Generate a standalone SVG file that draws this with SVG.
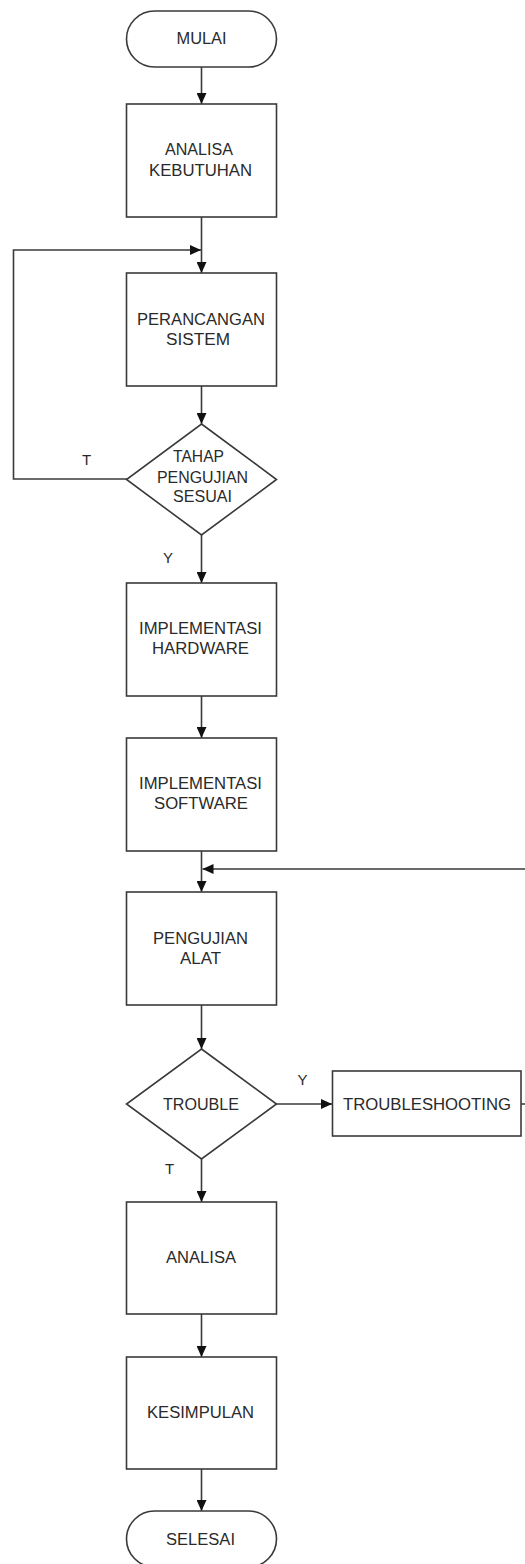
<svg xmlns="http://www.w3.org/2000/svg" width="525" height="1564" viewBox="0 0 525 1564">
<style>
.shape{fill:#ffffff;stroke:#3a3a3a;stroke-width:1.6}
.conn{fill:none;stroke:#3a3a3a;stroke-width:1.6}
.t{font-family:"Liberation Sans",Arial,sans-serif;font-size:16px;fill:#2a2a2a;text-anchor:middle}
.lbl{font-family:"Liberation Sans",Arial,sans-serif;font-size:15px;fill:#2a2a2a;text-anchor:middle}
</style>
<defs>
<marker id="arr" markerUnits="userSpaceOnUse" markerWidth="11" markerHeight="10" refX="11" refY="5" orient="auto">
<path d="M0,0 L11,5 L0,10 Z" fill="#111"/>
</marker>
</defs>
<rect width="525" height="1564" fill="#ffffff"/>
<g id="connectors">
<line class="conn" x1="201.5" y1="67" x2="201.5" y2="104" marker-end="url(#arr)"/>
<line class="conn" x1="201.5" y1="217" x2="201.5" y2="273" marker-end="url(#arr)"/>
<polyline class="conn" points="127,479 13.5,479 13.5,250 201,250" marker-end="url(#arr)"/>
<line class="conn" x1="201.5" y1="386" x2="201.5" y2="424" marker-end="url(#arr)"/>
<line class="conn" x1="201.5" y1="535" x2="201.5" y2="583" marker-end="url(#arr)"/>
<line class="conn" x1="201.5" y1="696" x2="201.5" y2="738" marker-end="url(#arr)"/>
<line class="conn" x1="201.5" y1="851" x2="201.5" y2="892" marker-end="url(#arr)"/>
<polyline class="conn" points="521,1104 532,1104 532,869 202.5,869" marker-end="url(#arr)"/>
<line class="conn" x1="201.5" y1="1005" x2="201.5" y2="1049" marker-end="url(#arr)"/>
<line class="conn" x1="276" y1="1104" x2="332" y2="1104" marker-end="url(#arr)"/>
<line class="conn" x1="201.5" y1="1159" x2="201.5" y2="1202" marker-end="url(#arr)"/>
<line class="conn" x1="201.5" y1="1314" x2="201.5" y2="1357" marker-end="url(#arr)"/>
<line class="conn" x1="201.5" y1="1469" x2="201.5" y2="1511" marker-end="url(#arr)"/>
<text class="lbl" x="86.5" y="465">T</text>
<text class="lbl" x="168" y="563">Y</text>
<text class="lbl" x="302.5" y="1085">Y</text>
<text class="lbl" x="169.5" y="1174">T</text>
</g>
<g id="mulai">
<rect class="shape" x="126.5" y="11" width="150" height="56" rx="28" ry="28"/>
<text class="t" x="201.5" y="44" textLength="50" lengthAdjust="spacingAndGlyphs">MULAI</text>
</g>
<g id="analisa-kebutuhan">
<rect class="shape" x="126.5" y="104" width="150" height="113"/>
<text class="t" x="199" y="155" textLength="68" lengthAdjust="spacingAndGlyphs">ANALISA</text>
<text class="t" x="200.5" y="176" textLength="103" lengthAdjust="spacingAndGlyphs">KEBUTUHAN</text>
</g>
<g id="perancangan-sistem">
<rect class="shape" x="126.5" y="273" width="150" height="113"/>
<text class="t" x="201" y="325" textLength="128" lengthAdjust="spacingAndGlyphs">PERANCANGAN</text>
<text class="t" x="198" y="345" textLength="64" lengthAdjust="spacingAndGlyphs">SISTEM</text>
</g>
<g id="tahap-pengujian">
<polygon class="shape" points="201.5,424 276.5,479.5 201.5,535 126.5,479.5"/>
<text class="t" x="198.5" y="462" textLength="51" lengthAdjust="spacingAndGlyphs">TAHAP</text>
<text class="t" x="202.5" y="482.5" textLength="91" lengthAdjust="spacingAndGlyphs">PENGUJIAN</text>
<text class="t" x="202.5" y="502" textLength="59" lengthAdjust="spacingAndGlyphs">SESUAI</text>
</g>
<g id="implementasi-hardware">
<rect class="shape" x="126.5" y="583" width="150" height="113"/>
<text class="t" x="200.5" y="634" textLength="123" lengthAdjust="spacingAndGlyphs">IMPLEMENTASI</text>
<text class="t" x="200.5" y="654" textLength="97" lengthAdjust="spacingAndGlyphs">HARDWARE</text>
</g>
<g id="implementasi-software">
<rect class="shape" x="126.5" y="738" width="150" height="113"/>
<text class="t" x="200.5" y="789" textLength="123" lengthAdjust="spacingAndGlyphs">IMPLEMENTASI</text>
<text class="t" x="201" y="808.5" textLength="94" lengthAdjust="spacingAndGlyphs">SOFTWARE</text>
</g>
<g id="pengujian-alat">
<rect class="shape" x="126.5" y="892" width="150" height="113"/>
<text class="t" x="200.5" y="944" textLength="95" lengthAdjust="spacingAndGlyphs">PENGUJIAN</text>
<text class="t" x="200.5" y="963.5" textLength="41" lengthAdjust="spacingAndGlyphs">ALAT</text>
</g>
<g id="trouble">
<polygon class="shape" points="201.5,1049 276.5,1104 201.5,1159 126.5,1104"/>
<text class="t" x="201" y="1109.5" textLength="76" lengthAdjust="spacingAndGlyphs">TROUBLE</text>
</g>
<g id="troubleshooting">
<rect class="shape" x="332.5" y="1071" width="188.5" height="65"/>
<text class="t" x="427" y="1109.5" textLength="168" lengthAdjust="spacingAndGlyphs">TROUBLESHOOTING</text>
</g>
<g id="analisa">
<rect class="shape" x="126.5" y="1202" width="150" height="112"/>
<text class="t" x="201" y="1263" textLength="70" lengthAdjust="spacingAndGlyphs">ANALISA</text>
</g>
<g id="kesimpulan">
<rect class="shape" x="126.5" y="1357" width="150" height="112"/>
<text class="t" x="200.5" y="1418" textLength="107" lengthAdjust="spacingAndGlyphs">KESIMPULAN</text>
</g>
<g id="selesai">
<rect class="shape" x="126.5" y="1511" width="150" height="56" rx="28" ry="28"/>
<text class="t" x="200.5" y="1545" textLength="69" lengthAdjust="spacingAndGlyphs">SELESAI</text>
</g>
</svg>
